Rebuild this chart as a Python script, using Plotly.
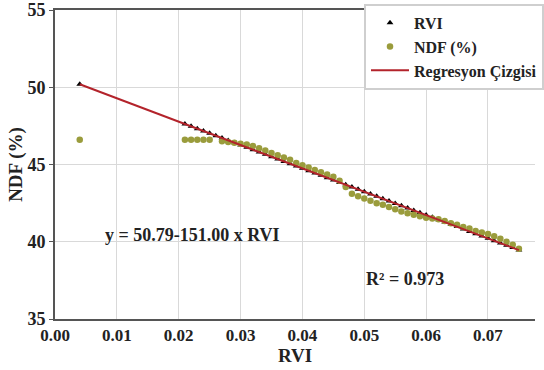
import plotly.graph_objects as go

# RVI values (x)
rvi_x = [0.004, 0.021, 0.022, 0.023, 0.024, 0.025, 0.026, 0.027, 0.028, 0.029,
         0.030, 0.031, 0.032, 0.033, 0.034, 0.035, 0.036, 0.037, 0.038, 0.039,
         0.040, 0.041, 0.042, 0.043, 0.044, 0.045, 0.046, 0.047, 0.048, 0.049,
         0.050, 0.051, 0.052, 0.053, 0.054, 0.055, 0.056, 0.057, 0.058, 0.059,
         0.060, 0.061, 0.062, 0.063, 0.064, 0.065, 0.066, 0.067, 0.068, 0.069,
         0.070, 0.071, 0.072, 0.073, 0.074, 0.075]
# RVI-predicted NDF (black triangles)
rvi_y = [50.19, 47.62, 47.47, 47.32, 47.17, 47.02, 46.86, 46.71, 46.56, 46.41,
         46.26, 46.11, 45.96, 45.81, 45.66, 45.50, 45.35, 45.20, 45.05, 44.90,
         44.75, 44.60, 44.45, 44.30, 44.15, 43.99, 43.84, 43.69, 43.54, 43.39,
         43.24, 43.09, 42.94, 42.79, 42.64, 42.48, 42.33, 42.18, 42.03, 41.88,
         41.73, 41.58, 41.43, 41.28, 41.13, 40.98, 40.83, 40.67, 40.52, 40.37,
         40.22, 40.07, 39.92, 39.77, 39.62, 39.46]

# Measured NDF (%) (olive circles)
ndf_x = [0.004, 0.021, 0.022, 0.023, 0.024, 0.025, 0.027, 0.028, 0.029,
         0.030, 0.031, 0.032, 0.033, 0.034, 0.035, 0.036, 0.037, 0.038, 0.039,
         0.040, 0.041, 0.042, 0.043, 0.044, 0.045, 0.046, 0.047, 0.048, 0.049,
         0.050, 0.051, 0.052, 0.053, 0.054, 0.055, 0.056, 0.057, 0.058, 0.059,
         0.060, 0.061, 0.062, 0.063, 0.064, 0.065, 0.066, 0.067, 0.068, 0.069,
         0.070, 0.071, 0.072, 0.073, 0.074, 0.075]
ndf_y = [46.6, 46.6, 46.6, 46.6, 46.6, 46.6, 46.5, 46.45, 46.4,
         46.35, 46.3, 46.2, 46.05, 45.9, 45.75, 45.6, 45.45, 45.3, 45.1,
         44.95, 44.8, 44.65, 44.5, 44.35, 44.2, 43.95, 43.55, 43.1, 42.95,
         42.8, 42.65, 42.5, 42.4, 42.25, 42.1, 41.95, 41.85, 41.75, 41.65,
         41.55, 41.5, 41.45, 41.35, 41.2, 41.1, 40.95, 40.85, 40.7, 40.6,
         40.5, 40.35, 40.2, 40.0, 39.8, 39.55]

# Regression line endpoints
reg_x = [0.004, 0.075]
reg_y = [50.19, 39.46]

x_ticks = [0.00, 0.01, 0.02, 0.03, 0.04, 0.05, 0.06, 0.07]
x_tick_text = ["0.00", "0.01", "0.02", "0.03", "0.04", "0.05", "0.06", "0.07"]
y_ticks = [35, 40, 45, 50, 55]

FONT = "Liberation Serif"
INK = "#222"

fig = go.Figure()
fig.add_trace(go.Scatter(x=rvi_x, y=rvi_y, mode="markers", name="RVI",
                         marker=dict(symbol="triangle-up", size=6, color="black")))
fig.add_trace(go.Scatter(x=ndf_x, y=ndf_y, mode="markers", name="NDF (%)",
                         marker=dict(symbol="circle", size=6.5, color="#9a9c3c")))
fig.add_trace(go.Scatter(x=reg_x, y=reg_y, mode="lines", name="Regresyon Çizgisi",
                         line=dict(color="#b3232b", width=2)))

fig.add_annotation(x=0.0222, y=40.45, text="y = 50.79-151.00 x RVI", showarrow=False,
                   font=dict(family=FONT, size=18, color=INK, weight="bold"))
fig.add_annotation(x=0.0566, y=37.6, text="R² = 0.973", showarrow=False,
                   font=dict(family=FONT, size=18, color=INK, weight="bold"))

fig.update_layout(
    width=544, height=370,
    margin=dict(l=55, r=0, t=10, b=51),
    plot_bgcolor="white", paper_bgcolor="white",
    font=dict(family=FONT, size=16, color=INK, weight="bold"),
    showlegend=True,
    legend=dict(x=0.644, y=1.02, xanchor="left", yanchor="top",
                bgcolor="white", bordercolor="#cfcfcf", borderwidth=2,
                font=dict(family=FONT, size=16, color=INK, weight="bold"),
                tracegroupgap=0, itemwidth=38),
    xaxis=dict(range=[0, 0.0776], tickvals=x_ticks, ticktext=x_tick_text,
               showgrid=True, gridcolor="#d9d9d9", gridwidth=1,
               showline=True, linecolor="#555", linewidth=2, mirror=True,
               ticks="", zeroline=False, automargin=False,
               tickfont=dict(family=FONT, size=17, color=INK, weight="bold"),
               title=dict(text="RVI", standoff=0,
                          font=dict(family=FONT, size=19, color=INK, weight="bold"))),
    yaxis=dict(range=[35, 55], tickvals=y_ticks,
               showgrid=True, gridcolor="#d9d9d9", gridwidth=1,
               showline=True, linecolor="#555", linewidth=2,
               ticks="outside", ticklen=4, tickcolor="#555", zeroline=False,
               automargin=False,
               tickfont=dict(family=FONT, size=18, color=INK, weight="bold"),
               title=dict(text="NDF (%)", standoff=0,
                          font=dict(family=FONT, size=19, color=INK, weight="bold"))),
)

fig.write_html("out.html", config={"displayModeBar": False},
               post_script="document.body.style.margin='0';")
